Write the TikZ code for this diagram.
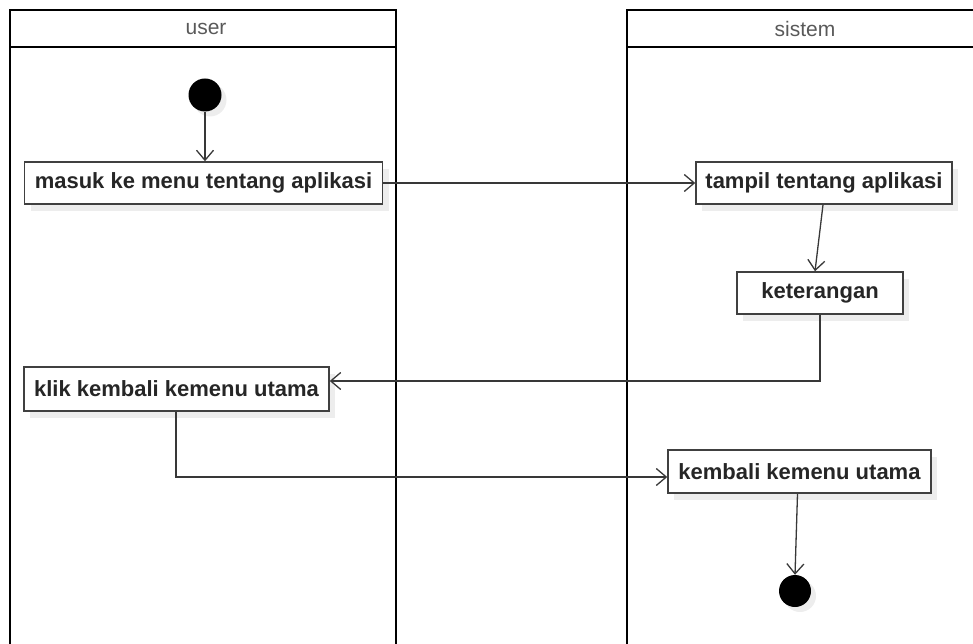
\documentclass[tikz,border=0pt]{standalone}
\usepackage{fontspec}
\setmainfont{Liberation Sans}
\usetikzlibrary{arrows.meta,shadows}
\begin{document}
\begin{tikzpicture}[x=1pt,y=-1pt,
  lane/.style={line width=2.6pt,draw=black},
  lanetitle/.style={font=\fontsize{21}{25}\selectfont,text=black!65},
  act/.style={draw=black!75,line width=1.5pt,fill=white,inner sep=0pt,
    font=\fontsize{22}{26}\selectfont\bfseries,text=black!85,
    drop shadow={shadow xshift=6pt,shadow yshift=-7pt,fill=black,opacity=0.07}},
  dot/.style={circle,fill=black,minimum size=33pt,inner sep=0pt,
    drop shadow={shadow xshift=5pt,shadow yshift=-5pt,fill=black,opacity=0.07}},
  flow/.style={draw=black!78,line width=1.3pt,-{Straight Barb[length=10pt,width=17pt,line width=1.3pt]}},
]
\useasboundingbox (0,0) rectangle (973,644);
\clip (0,0) rectangle (973,644);

% swimlanes
\draw[lane] (10,660) -- (10,10) -- (396,10) -- (396,660);
\draw[lane] (10,47) -- (396,47);
\node[lanetitle] (userlbl) at (206,29) {user};
\draw[lane] (627,660) -- (627,10) -- (990,10);
\draw[lane] (627,47) -- (990,47);
\node[lanetitle] (sistemlbl) at (805,29) {sistem};

% nodes
\node[dot] (start) at (205,95) {};
\node[act,minimum width=358pt,minimum height=42pt] (masuk) at (203.5,183) {masuk ke menu tentang aplikasi};
\node[act,minimum width=256pt,minimum height=42pt] (tampil) at (824,183) {tampil tentang aplikasi};
\node[act,minimum width=166pt,minimum height=42pt] (ket) at (820,293) {keterangan};
\node[act,minimum width=305pt,minimum height=44pt] (klik) at (176.5,389) {klik kembali kemenu utama};
\node[act,minimum width=263pt,minimum height=43pt] (kembali) at (799.5,471.5) {kembali kemenu utama};
\node[dot,minimum size=32pt] (stop) at (795,591) {};

\coordinate (c1) at (820,381);
\coordinate (c2) at (176,477);

% connectors
\draw[flow] (start) -- (masuk.north -| start);
\draw[flow] (masuk.east) -- (tampil.west);
\draw[flow] ([xshift=-1pt]tampil.south) -- ([xshift=-5pt]ket.north);
\draw[flow] (ket.south) -- (c1) -- (klik.east |- c1);
\draw[flow] (klik.south -| c2) -- (c2) -- (kembali.west |- c2);
\draw[flow] ([xshift=-2pt]kembali.south) -- (stop.north);
\end{tikzpicture}
\end{document}
